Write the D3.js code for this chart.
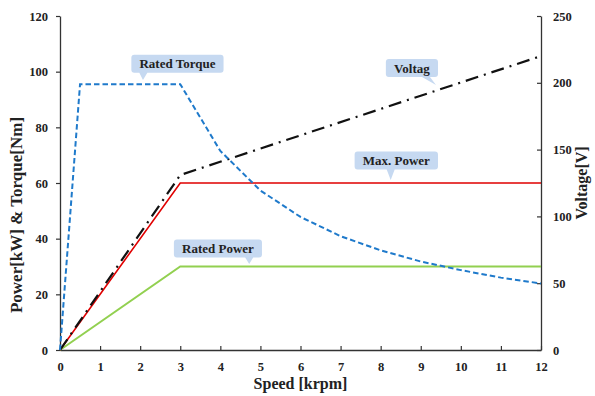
<!DOCTYPE html>
<html><head><meta charset="utf-8">
<script src="https://cdn.jsdelivr.net/npm/d3@7/dist/d3.min.js"></script>
<style>body{margin:0;background:#fff}svg{display:block}text{font-family:"Liberation Serif","Times New Roman",serif;font-weight:bold;fill:#222}</style>
</head><body><svg id="c" width="595" height="396"></svg>
<script>
const speed = [0,0.5,1,2,3,4,5,6,7,8,9,10,11,12];
const torque = [0,95.5,95.5,95.5,95.5,71.5,57.3,47.8,40.9,35.8,31.8,28.7,26.0,23.9];
const maxPowerX = [0,3,12];
const maxPower = [0,60,60];
const ratedPowerX = [0,3,12];
const ratedPower = [0,30,30];
const voltageX = [0,3,12];
const voltage = [0,131,220];
const xTicks = [0,1,2,3,4,5,6,7,8,9,10,11,12];
const yTicks = [0,20,40,60,80,100,120];
const y2Ticks = [0,50,100,150,200,250];
const calloutText = ["Rated Torque","Voltag","Max. Power","Rated Power"];
const calloutTip = [[2.07,97],[9.38,95.2],[8.25,61.1],[4.72,30.9]];
const calloutBox = [[2.93,102.8],[8.78,101.3],[8.39,68.1],[3.94,36.5]];

const svg = d3.select("#c");
const L=60,R=541,T=16,B=350;
const x = d3.scaleLinear().domain([0,12]).range([L,R]);
const y = d3.scaleLinear().domain([0,120]).range([B,T]);
const y2 = d3.scaleLinear().domain([0,250]).range([B,T]);

const gx = svg.append("g").attr("transform",`translate(0,${B})`)
  .call(d3.axisBottom(x).tickValues(xTicks).tickSizeInner(-4).tickSizeOuter(0).tickPadding(12));
const gy = svg.append("g").attr("transform",`translate(${L},0)`)
  .call(d3.axisLeft(y).tickValues(yTicks).tickSizeInner(4).tickSizeOuter(0).tickPadding(8));
const gy2 = svg.append("g").attr("transform",`translate(${R},0)`)
  .call(d3.axisRight(y2).tickValues(y2Ticks).tickSizeInner(-4).tickSizeOuter(0).tickPadding(12));
[gx,gy,gy2].forEach(g=>{
  g.selectAll("path.domain").attr("stroke","#333").attr("stroke-width",1.3);
  g.selectAll(".tick line").attr("stroke","#333").attr("stroke-width",1.2);
  g.selectAll(".tick text").style("font-family",'"Liberation Serif",serif').style("font-weight","bold").style("font-size","12.5px").attr("fill","#222");
});

const line = (xs,ys,sc)=> d3.line().x((d,i)=>x(xs[i])).y((d,i)=>sc(ys[i]))(ys);

svg.append("path").attr("d",line(ratedPowerX,ratedPower,y)).attr("fill","none").attr("stroke","#92d050").attr("stroke-width",2);
svg.append("path").attr("d",line(maxPowerX,maxPower,y)).attr("fill","none").attr("stroke","#e00000").attr("stroke-width",1.6);
svg.append("path").attr("d",line(voltageX,voltage,y2)).attr("fill","none").attr("stroke","#111").attr("stroke-width",2.2).attr("stroke-dasharray","13,6,2,6");
svg.append("path").attr("d",line(speed,torque,y)).attr("fill","none").attr("stroke","#1f7acb").attr("stroke-width",2).attr("stroke-dasharray","5.5,3");

calloutText.forEach((txt,i)=>{
  const g = svg.append("g");
  const cx = x(calloutBox[i][0]), cy = y(calloutBox[i][1]);
  const t = g.append("text").attr("x",cx).attr("y",cy).attr("text-anchor","middle").attr("dominant-baseline","central").style("font-size","13px").text(txt);
  const bb = t.node().getBBox();
  const w = bb.width+16, h=18;
  const bx = cx-w/2, by = cy-h/2;
  const px = x(calloutTip[i][0]), py = y(calloutTip[i][1]);
  const base = Math.min(Math.max(px-4, bx+8), bx+w-16);
  g.insert("path","text").attr("d",
    `M${bx+3},${by} H${bx+w-3} Q${bx+w},${by} ${bx+w},${by+3} V${by+h-3} Q${bx+w},${by+h} ${bx+w-3},${by+h} H${base+8} L${px},${py} L${base},${by+h} H${bx+3} Q${bx},${by+h} ${bx},${by+h-3} V${by+3} Q${bx},${by} ${bx+3},${by} Z`)
    .attr("fill","#c6d9f1");
});

svg.append("text").attr("x",(L+R)/2).attr("y",389).attr("text-anchor","middle").style("font-size","16px").text("Speed [krpm]");
svg.append("text").attr("transform",`translate(22,215) rotate(-90)`).attr("text-anchor","middle").style("font-size","17px").text("Power[kW] & Torque[Nm]");
svg.append("text").attr("transform",`translate(587,${(T+B)/2}) rotate(-90)`).attr("text-anchor","middle").style("font-size","16px").text("Voltage[V]");
</script></body></html>
